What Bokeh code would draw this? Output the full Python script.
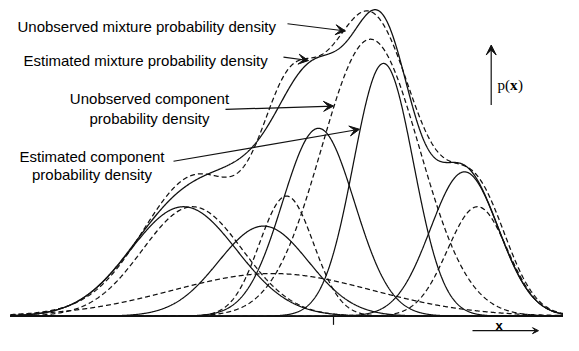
import numpy as np
from bokeh.plotting import figure
from bokeh.models import Range1d, Label, Arrow, VeeHead
from bokeh.embed import file_html
from bokeh.resources import INLINE

# ---- values (x: horizontal position, peak: height of density) ----
true_means = [183, 263, 318, 383, 464]
true_peaks = [113, 93, 194, 261, 149]
true_sds = [53, 45, 36, 30, 34]

est_means = [192, 272, 286, 370, 477]
est_peaks = [113, 44, 124, 286, 113]
est_sds = [50, 100, 27, 49, 30]

x_domain = [10, 578]
x_tick = [333]

label_mixture_true = "Unobserved mixture probability density"
label_mixture_est = "Estimated mixture probability density"
label_comp_true = ["Unobserved component", "probability density"]
label_comp_est = ["Estimated component", "probability density"]

# ---- build curves ----
xs = np.linspace(x_domain[0], x_domain[1], 1400)


def comp(m, h, s):
    return h * np.exp(-0.5 * ((xs - m) / s) ** 2)


true_comps = [comp(m, h, s) for m, h, s in zip(true_means, true_peaks, true_sds)]
est_comps = [comp(m, h, s) for m, h, s in zip(est_means, est_peaks, est_sds)]
true_mix = np.sum(true_comps, axis=0)
est_mix = np.sum(est_comps, axis=0)

p = figure(width=563, height=335, x_range=Range1d(0, 563), y_range=Range1d(-20, 326),
           toolbar_location=None, output_backend="svg", min_border=0,
           x_axis_location=None, y_axis_location=None, outline_line_color=None)
p.grid.visible = False
p.background_fill_color = "white"
p.border_fill_color = "white"

ink = "#111111"
dash = "5 3"

for c in true_comps:
    p.line(xs, c, line_color=ink, line_width=1.25)
p.line(xs, true_mix, line_color=ink, line_width=1.3)
for c in est_comps:
    p.line(xs, c, line_color=ink, line_width=1.25, line_dash=dash)
p.line(xs, est_mix, line_color=ink, line_width=1.25, line_dash=dash)

# baseline and tick
p.segment(x0=[x_domain[0]], y0=[0], x1=[x_domain[1]], y1=[0], line_color=ink, line_width=1.8)
p.segment(x0=x_tick, y0=[0], x1=x_tick, y1=[-9], line_color=ink, line_width=1.2)

font = "Liberation Sans"


def lab(text, x, y, align="left", size="15px", style="normal", fam=font):
    p.add_layout(Label(x=x, y=y, text=text, text_align=align, text_baseline="alphabetic",
                       text_font=fam, text_font_size=size, text_font_style=style,
                       text_color="#000000"))


def Y(ry):
    return 326 - ry


lab(label_mixture_true, 17, Y(27))
lab(label_mixture_est, 23, Y(61.5))
lab(label_comp_true[0], 149, Y(101.5), align="center")
lab(label_comp_true[1], 149, Y(121.5), align="center")
lab(label_comp_est[0], 91.5, Y(161), align="center")
lab(label_comp_est[1], 91.5, Y(180), align="center")

# p(x)
lab("p(", 497, Y(87), fam="Liberation Serif")
lab("x", 509.5, Y(87), style="bold", fam="Liberation Serif")
lab(")", 517.5, Y(87), fam="Liberation Serif")
# x label
lab("x", 498.5, Y(335.5), align="center", size="13px", style="bold")


def arrow(x0, y0, x1, y1, size=10):
    p.add_layout(Arrow(end=VeeHead(size=size, fill_color=ink, line_color=ink, line_width=1),
                       x_start=x0, y_start=Y(y0), x_end=x1, y_end=Y(y1),
                       line_color=ink, line_width=1.2))


arrow(287, 24, 345, 31.5)
arrow(283, 58.5, 308, 62)
arrow(225, 112.5, 333, 109)
arrow(173, 166, 359, 133)
arrow(490.7, 108, 490.7, 46)
arrow(472, 341, 538, 341, size=6)

open("out.html", "w").write(file_html(p, INLINE))
